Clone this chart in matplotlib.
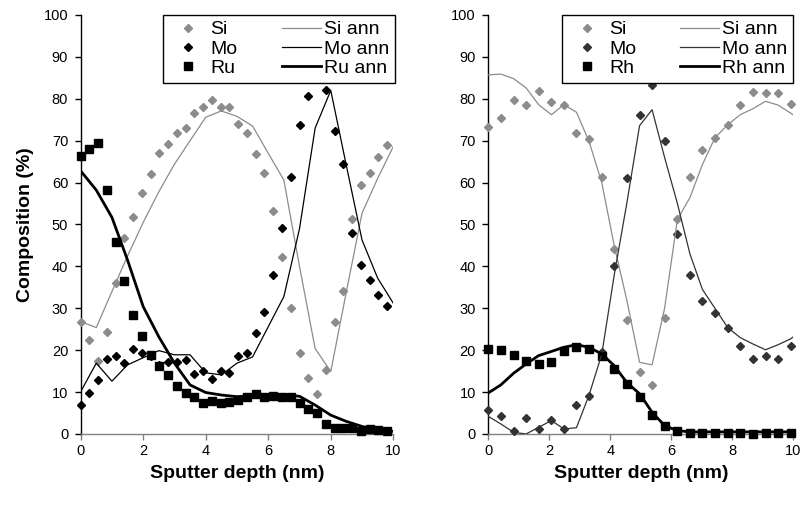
import matplotlib
matplotlib.use('Agg')
import matplotlib.pyplot as plt

plt.rcParams['font.family'] = ['Liberation Sans', 'DejaVu Sans']

# ---------------- Left panel (Mo/Si/Ru) ----------------
depth_L = [0.00, 0.28, 0.56, 0.84, 1.12, 1.40, 1.68, 1.96, 2.24, 2.52, 2.80, 3.08,
           3.36, 3.64, 3.92, 4.20, 4.48, 4.76, 5.04, 5.32, 5.60, 5.88, 6.16, 6.44,
           6.72, 7.00, 7.28, 7.56, 7.84, 8.12, 8.40, 8.68, 8.96, 9.24, 9.52, 9.80]
si_L = [26.7, 22.4, 17.5, 24.3, 36.1, 46.7, 51.7, 57.6, 62.1, 67.0, 69.2, 71.8,
        73.0, 76.7, 78.0, 79.7, 78.1, 78.1, 73.9, 71.9, 66.8, 62.4, 53.1, 42.3,
        30.0, 19.3, 13.3, 9.5, 15.3, 26.7, 34.2, 51.3, 59.4, 62.2, 66.2, 69.0]
mo_L = [6.8, 9.7, 12.9, 17.9, 18.5, 16.9, 20.2, 19.3, 18.5, 16.5, 17.1, 17.1,
        17.7, 14.4, 15.0, 13.1, 15.0, 14.6, 18.6, 19.4, 24.0, 29.0, 37.9, 49.1,
        61.4, 73.7, 80.7, float('nan'), 82.2, 72.2, 64.4, 47.9, 40.3, 36.8, 33.2, 30.5]
ru_L = [66.3, 68.0, 69.5, 58.2, 45.9, 36.4, 28.4, 23.4, 18.9, 16.2, 14.1, 11.5,
        9.9, 8.8, 7.3, 7.9, 7.3, 7.6, 8.1, 8.9, 9.5, 8.8, 9.1, 8.8,
        8.8, 7.3, 5.9, 4.9, 2.3, 1.5, 1.5, 1.4, 0.8, 1.3, 1.0, 0.6]

depth_ann_L = [0.0, 0.5, 1.0, 1.5, 2.0, 2.5, 3.0, 3.5, 4.0, 4.5, 5.0,
               5.5, 6.0, 6.5, 7.0, 7.5, 8.0, 8.5, 9.0, 9.5, 10.0]
si_ann_L = [26.8, 25.4, 34.0, 42.5, 50.5, 57.8, 64.4, 70.0, 75.6, 77.1, 75.8,
            73.5, 67.0, 60.6, 40.0, 20.4, 14.9, 34.0, 52.7, 61.0, 68.6]
mo_ann_L = [10.1, 16.9, 12.6, 16.5, 18.2, 19.9, 18.9, 18.9, 14.6, 14.1, 16.9,
            18.4, 25.6, 32.8, 49.0, 73.0, 82.0, 64.0, 46.3, 37.2, 31.2]
ru_ann_L = [62.8, 58.2, 51.7, 41.5, 30.4, 23.2, 16.9, 11.7, 9.9, 9.3, 8.9,
            9.2, 9.3, 9.3, 9.0, 6.9, 4.5, 3.0, 1.8, 1.0, 0.6]

# ---------------- Right panel (Mo/Si/Rh) ----------------
depth_R = [0.00, 0.41, 0.83, 1.24, 1.65, 2.07, 2.48, 2.89, 3.30, 3.72, 4.13, 4.54,
           4.96, 5.37, 5.78, 6.20, 6.61, 7.02, 7.43, 7.85, 8.26, 8.67, 9.09, 9.50, 9.91]
si_R = [73.2, 75.3, 79.6, 78.4, 81.8, 79.2, 78.4, 71.9, 70.3, 61.4, 44.1, 27.2,
        14.7, 11.8, 27.8, 51.2, 61.3, 67.8, 70.7, 73.8, 78.4, 81.6, 81.4, 81.4, 78.8]
mo_R = [5.8, 4.2, 0.8, 3.8, 1.1, 3.4, 1.1, 7.0, 9.0, 19.5, 40.1, 61.0,
        76.2, 83.4, 70.0, 47.7, 37.9, 31.8, 28.9, 25.4, 21.1, 17.9, 18.5, 17.9, 21.1]
rh_R = [20.4, 20.1, 18.9, 17.3, 16.7, 17.1, 19.9, 20.7, 20.4, 18.7, 15.5, 11.9,
        8.8, 4.5, 1.9, 0.8, 0.35, 0.35, 0.35, 0.35, 0.3, 0.1, 0.35, 0.35, 0.2]

depth_ann_R = [0.00, 0.41, 0.83, 1.24, 1.65, 2.07, 2.48, 2.89, 3.30, 3.72, 4.13, 4.54, 4.96,
               5.37, 5.78, 6.20, 6.61, 7.02, 7.43, 7.85, 8.26, 8.67, 9.09, 9.50, 9.91, 10.33]
si_ann_R = [85.7, 85.9, 84.8, 82.6, 78.6, 76.2, 78.6, 76.8, 69.9, 60.0, 44.9, 32.0, 17.1,
            16.5, 30.0, 51.2, 56.4, 64.3, 70.7, 73.8, 76.2, 77.6, 79.4, 78.5, 76.6, 74.5]
mo_ann_R = [4.2, 2.4, 0.4, 0.0, 1.6, 3.2, 1.2, 1.5, 9.2, 19.0, 38.0, 55.0, 73.6,
            77.4, 66.0, 55.0, 43.0, 34.5, 30.0, 25.4, 23.0, 21.5, 20.1, 21.3, 22.7, 25.0]
rh_ann_R = [9.8, 11.7, 14.5, 16.7, 18.7, 19.7, 20.7, 21.3, 20.7, 19.1, 16.3, 12.3, 9.6,
            5.2, 2.0, 0.8, 0.5, 0.5, 0.5, 0.5, 0.5, 0.5, 0.5, 0.5, 0.5, 0.5]

x_ticks = [0, 2, 4, 6, 8, 10]
y_ticks = [0, 10, 20, 30, 40, 50, 60, 70, 80, 90, 100]

SI_COL = '#8c8c8c'
SI_LINE = '#8c8c8c'

fig = plt.figure(figsize=(8.01, 5.08), dpi=100)
axL = fig.add_axes([0.1007, 0.1457, 0.3903, 0.8248])
axR = fig.add_axes([0.6096, 0.1457, 0.3808, 0.8248])


def style(ax):
    ax.set_xlim(0, 10)
    ax.set_ylim(0, 100)
    ax.set_xticks(x_ticks)
    ax.set_yticks(y_ticks)
    for s in ('top', 'right'):
        ax.spines[s].set_visible(False)
    ax.spines['left'].set_color('black')
    ax.spines['left'].set_linewidth(1.0)
    ax.spines['bottom'].set_color('#808080')
    ax.spines['bottom'].set_linewidth(1.0)
    ax.tick_params(axis='y', direction='out', length=4, width=1, color='black',
                   labelsize=10.5, pad=5)
    ax.tick_params(axis='x', direction='out', length=4, width=1, color='#808080',
                   labelsize=10.5, pad=3)
    ax.set_xlabel('Sputter depth (nm)', fontsize=14, fontweight='bold', labelpad=5)


def panel(ax, d, si, mo, met, da, si_a, mo_a, met_a, mo_col, met_name):
    h1, = ax.plot(d, si, linestyle='none', marker='D', ms=4.4, color=SI_COL,
                  mec=SI_COL, clip_on=False, label='Si', zorder=3)
    h2, = ax.plot(d, mo, linestyle='none', marker='D', ms=4.4, color=mo_col,
                  mec=mo_col, clip_on=False, label='Mo', zorder=3)
    h3, = ax.plot(d, met, linestyle='none', marker='s', ms=6.3, color='black',
                  mec='black', clip_on=False, label=met_name, zorder=3)
    h4, = ax.plot(da, si_a, color=SI_LINE, lw=0.9, label='Si ann', zorder=4)
    h5, = ax.plot(da, mo_a, color=mo_col, lw=0.9, label='Mo ann', zorder=4)
    h6, = ax.plot(da, met_a, color='black', lw=2.0, label=met_name + ' ann', zorder=4)
    return [h1, h2, h3, h4, h5, h6]


hL = panel(axL, depth_L, si_L, mo_L, ru_L, depth_ann_L, si_ann_L, mo_ann_L, ru_ann_L,
           'black', 'Ru')
hR = panel(axR, depth_R, si_R, mo_R, rh_R, depth_ann_R, si_ann_R, mo_ann_R, rh_ann_R,
           '#333333', 'Rh')
style(axL)
style(axR)
axL.set_ylabel('Composition (%)', fontsize=14, fontweight='bold', labelpad=7)


def legend(ax, handles, x0, w):
    leg = ax.legend(handles=handles, ncol=2, loc='upper left',
                    bbox_to_anchor=(x0, 0.0, w, 1.0), mode='expand',
                    fontsize=14, frameon=True, fancybox=False, framealpha=1,
                    edgecolor='black', borderpad=0.3, labelspacing=0.08,
                    handlelength=2.0, handletextpad=0.15, columnspacing=0.5,
                    borderaxespad=0.0)
    leg.get_frame().set_linewidth(1.0)
    leg.set_zorder(10)
    return leg


legend(axL, hL, 0.263, 0.742)
legend(axR, hR, 0.241, 0.759)

fig.savefig('out.png', dpi=100)
